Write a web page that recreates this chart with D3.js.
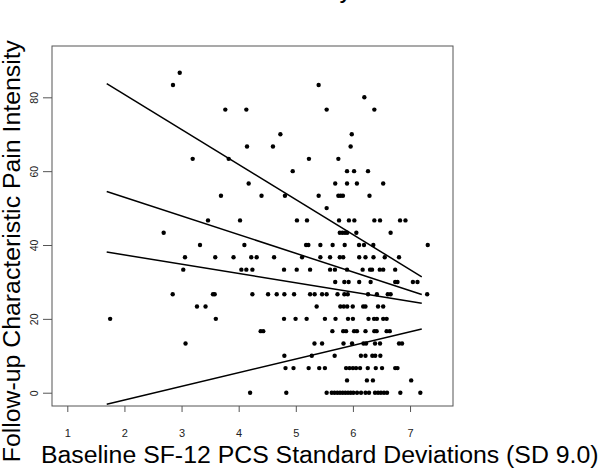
<!DOCTYPE html>
<html>
<head>
<meta charset="utf-8">
<script src="https://cdn.jsdelivr.net/npm/d3@7"></script>
<style>
  body { margin: 0; background: #fff; }
  svg { display: block; font-family: "Liberation Sans", Arial, sans-serif; }
</style>
</head>
<body>
<svg id="chart" width="601" height="470"></svg>
<script>
// pain intensity levels (multiples of 10/3) and the PCS sd values seen at each level
var painLevels = [86.67, 83.33, 80, 76.67, 70, 66.67, 63.33, 60, 56.67, 53.33, 50, 46.67,
  43.33, 40, 36.67, 33.33, 30, 26.67, 23.33, 20, 16.67, 13.33, 10, 6.67, 3.33, 0];

var pcsByLevel = [
  [2.968],
  [2.85, 5.40],
  [6.20],
  [3.766, 4.134, 5.54, 6.375],
  [4.73, 5.98],
  [4.146, 4.60, 5.96],
  [3.195, 3.825, 5.23, 5.745],
  [4.946, 5.897, 6.02, 6.264],
  [4.175, 5.69, 5.897, 6.07, 6.53],
  [3.69, 4.40, 4.81, 5.40, 5.745, 5.785, 5.825, 6.29],
  [5.54],
  [3.463, 4.024, 5.02, 5.196, 5.757, 5.93, 6.025, 6.375, 6.475, 6.825, 6.92],
  [2.687, 5.77, 5.815, 5.86, 5.90, 6.06, 6.66],
  [3.323, 4.10, 5.18, 5.22, 5.43, 5.645, 5.856, 6.107, 6.194, 6.357, 7.31],
  [3.06, 3.59, 3.91, 4.22, 4.315, 4.62, 5.11, 5.43, 5.60, 5.77, 5.83, 6.11, 6.22, 6.36, 6.557, 6.807],
  [3.03, 4.047, 4.134, 4.24, 4.794, 5.016, 5.25, 5.60, 5.685, 5.897, 6.17, 6.30, 6.335, 6.47, 6.53, 6.74],
  [5.69, 5.85, 5.925, 6.11, 6.31, 6.74, 6.78, 7.05, 7.13],
  [2.845, 3.55, 3.58, 4.24, 4.515, 4.666, 4.80, 4.97, 5.25, 5.33, 5.46, 5.54, 5.73, 5.85, 5.91, 6.265, 6.42, 6.61, 6.66, 7.30],
  [3.27, 3.42, 5.365, 5.78, 5.84, 5.90, 5.997, 6.18, 6.22, 6.44, 6.53],
  [1.75, 3.60, 4.794, 4.996, 5.19, 5.51, 5.695, 5.914, 6.0, 6.273, 6.37, 6.42, 6.53, 6.59],
  [4.385, 4.43, 5.64, 5.83, 5.88, 6.02, 6.07, 6.22, 6.375, 6.415, 6.59, 6.645],
  [3.07, 5.327, 5.46, 5.835, 5.985, 6.185, 6.23, 6.387, 6.475, 6.807, 6.86],
  [4.80, 5.28, 5.68, 6.14, 6.22, 6.34, 6.39, 6.48],
  [4.82, 4.96, 5.225, 5.41, 5.51, 5.88, 5.94, 6.0, 6.055, 6.125, 6.26, 6.40, 6.51, 6.74, 6.78],
  [5.897, 6.245, 6.35, 7.02],
  [4.20, 4.834, 5.54, 5.629, 5.678, 5.727, 5.774, 5.821, 5.867, 5.914, 5.961, 6.007, 6.072,
   6.142, 6.22, 6.282, 6.387, 6.44, 6.49, 6.544, 6.597, 6.83, 7.18]
];

// fitted lines: x range and y at each end
var fitX = [1.69, 7.205];
var fitStart = [83.7, 54.5, 38.1, -3.1];
var fitEnd = [31.4, 26.6, 24.2, 17.25];

var xTicks = [1, 2, 3, 4, 5, 6, 7];
var yTicks = [0, 20, 40, 60, 80];

var xLabel = "Baseline SF-12 PCS Standard Deviations (SD 9.0)";
var yLabel = "Follow-up Characteristic Pain Intensity";

var svg = d3.select("#chart");

// plot box
var boxLeft = 52, boxRight = 453, boxTop = 46, boxBottom = 406;

var x = d3.scaleLinear().domain([0.732, 7.752]).range([boxLeft, boxRight]);
var y = d3.scaleLinear().domain([-3.6, 93.9]).range([boxBottom, boxTop]);

// title, mostly above the picture (only a descender shows)
svg.append("text")
    .attr("x", 352).attr("y", -2)
    .attr("text-anchor", "end")
    .style("font-size", "25px")
    .text("Pain Intensity");

// axes
var xAxis = svg.append("g")
    .attr("transform", "translate(0," + boxBottom + ")")
    .call(d3.axisBottom(x).tickValues(xTicks).tickSize(6).tickFormat(d3.format("d")));
var yAxis = svg.append("g")
    .attr("transform", "translate(" + boxLeft + ",0)")
    .call(d3.axisLeft(y).tickValues(yTicks).tickSize(9).tickFormat(d3.format("d")));

xAxis.select(".domain").remove();
yAxis.select(".domain").remove();
svg.selectAll(".tick line").attr("stroke", "#555");
xAxis.selectAll(".tick text")
    .attr("dy", null).attr("y", 31)
    .style("font-size", "11px").attr("fill", "#222");
yAxis.selectAll(".tick text")
    .attr("x", null).attr("dy", null).attr("y", 0)
    .attr("text-anchor", "middle")
    .attr("transform", "translate(-14,0) rotate(-90)")
    .style("font-size", "10.5px").attr("fill", "#222");

svg.append("rect")
    .attr("x", boxLeft).attr("y", boxTop)
    .attr("width", boxRight - boxLeft).attr("height", boxBottom - boxTop)
    .attr("fill", "none").attr("stroke", "#555").attr("stroke-width", 1);

// points
var points = [];
painLevels.forEach(function(p, i){
  pcsByLevel[i].forEach(function(v){ points.push({x: v, y: p}); });
});

svg.append("g").selectAll("circle")
    .data(points)
   .enter().append("circle")
    .attr("cx", function(d){ return x(d.x); })
    .attr("cy", function(d){ return y(d.y); })
    .attr("r", 2.2)
    .attr("fill", "#000");

// fitted lines
var line = d3.line().x(function(d){ return x(d[0]); }).y(function(d){ return y(d[1]); });
svg.append("g").selectAll("path")
    .data(fitStart.map(function(s, i){ return [[fitX[0], s], [fitX[1], fitEnd[i]]]; }))
   .enter().append("path")
    .attr("d", line)
    .attr("fill", "none")
    .attr("stroke", "#000")
    .attr("stroke-width", 1.5);

// axis titles, sized to the width they take in the original
var xl = svg.append("text")
    .attr("x", 41).attr("y", 463)
    .style("font-size", "25px")
    .text(xLabel);
var w = xl.node().getComputedTextLength();
xl.style("font-size", (25 * 558 / w) + "px");

svg.append("text")
    .attr("transform", "translate(20,40) rotate(-90)")
    .attr("text-anchor", "end")
    .style("font-size", (25 * 558 / w) + "px")
    .text(yLabel);
</script>
</body>
</html>
